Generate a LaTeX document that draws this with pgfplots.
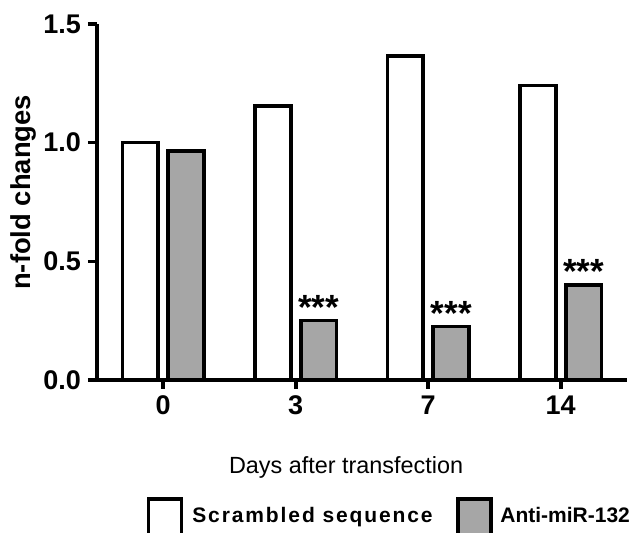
\documentclass[border=0pt]{standalone}
\usepackage{pgfplots}
\pgfplotsset{compat=1.18}
\usepackage{fontspec}
\setmainfont{Liberation Sans}
\definecolor{bargray}{RGB}{166,166,166}
\begin{document}
\begin{tikzpicture}
\begin{axis}[
  scale only axis,
  width=265pt, height=178pt,
  xmin=-0.5, xmax=3.5,
  ymin=0, ymax=1.5,
  clip=false,
  axis x line*=bottom,
  axis y line*=left,
  axis line style={line width=1.8pt},
  tick style={line width=1.8pt, black},
  tick align=outside,
  major tick length=4.5pt,
  xtick={0,1,2,3},
  xticklabels={0,3,7,14},
  ytick={0,0.5,1.0,1.5},
  yticklabel style={/pgf/number format/.cd, fixed, fixed zerofill, precision=1},
  /pgf/number format/assume math mode=true,
  tick label style={font=\fontsize{13.5}{15}\selectfont\bfseries},
  ylabel={n-fold changes},
  ylabel style={at={(axis description cs:-0.138,0.527)}, anchor=center, font=\fontsize{13.7}{15}\selectfont\bfseries},
  xlabel={Days after transfection},
  xlabel style={at={(axis description cs:0.47,-0.246)}, anchor=center, font=\fontsize{11.7}{13}\selectfont},
  ybar,
  bar width=0.271,
]
\addplot[draw=black, fill=white, line width=1.8pt, bar shift=-0.1735]
  coordinates {(0,1.00) (1,1.155) (2,1.365) (3,1.24)};
\addplot[draw=black, fill=bargray, line width=1.8pt, bar shift=0.1735,
  point meta=explicit symbolic,
  nodes near coords,
  every node near coord/.append style={anchor=base, inner sep=0pt, yshift=0.6pt, font=\fontsize{17.5}{18}\selectfont\bfseries}]
  coordinates {(0,0.965) [] (1,0.25) [***] (2,0.225) [***] (3,0.40) [***]};
% legend
\draw[black, fill=white, line width=1.8pt]
  (axis description cs:0.0972,-0.3337) rectangle (axis description cs:0.1594,-0.4635);
\node[anchor=base west, inner sep=0pt, font=\fontsize{10.5}{12}\selectfont\bfseries\addfontfeatures{LetterSpace=9}]
  at (axis description cs:0.1792,-0.4017) {Scrambled sequence};
\draw[black, fill=bargray, line width=1.8pt]
  (axis description cs:0.6808,-0.3337) rectangle (axis description cs:0.7432,-0.4635);
\node[anchor=base west, inner sep=0pt, font=\fontsize{10.5}{12}\selectfont\bfseries]
  at (axis description cs:0.7604,-0.4017) {Anti-miR-132};
\end{axis}
\pgfresetboundingbox
\path (-48.5pt,-76.5pt) rectangle (268.5pt,190pt);
\end{tikzpicture}
\end{document}
